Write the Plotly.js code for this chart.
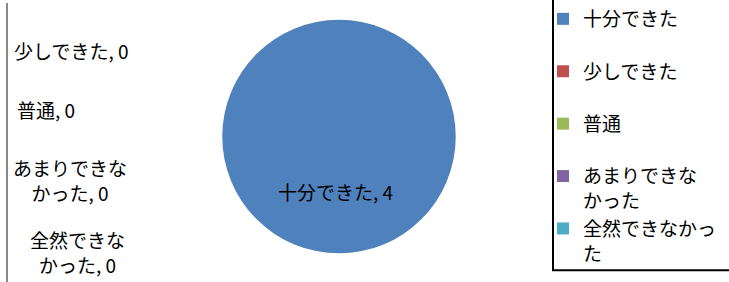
<!DOCTYPE html>
<html>
<head>
<meta charset="utf-8">
<script src="https://cdn.plot.ly/plotly-3.0.1.min.js"></script>
<style>html,body{margin:0;padding:0;background:#fff;}#chart{width:729px;height:282px;}</style>
</head>
<body>
<div id="chart"></div>
<script>
var categories = ['十分できた', '少しできた', '普通', 'あまりできなかった', '全然できなかった'];
var values = [4, 0, 0, 0, 0];
var legendLabels = ['十分できた', '少しできた', '普通', 'あまりできな<br>かった', '全然できなかっ<br>た'];
var dataLabelNames = ['十分できた', '少しできた', '普通', 'あまりできな<br>かった', '全然できな<br>かった'];
var colors = ['#4F81BD', '#C0504D', '#9BBB59', '#8064A2', '#4BACC6'];

var W = 729, H = 282;
var FONT = '"Noto Sans CJK JP", "Noto Sans", sans-serif';

// pad single-line legend entries so every entry has the same height
var pieLabels = legendLabels.map(function (l) {
  return l.indexOf('<br>') >= 0 ? l : l + '<br>\u00a0';
});

// label positions in pixels (center x, center y)
var labelPos = [[335, 191], [71, 48], [46, 108], [70, 179], [77, 252]];

var annotations = categories.map(function (c, i) {
  return {
    xref: 'paper', yref: 'paper',
    x: labelPos[i][0] / W, y: 1 - labelPos[i][1] / H,
    xanchor: 'center', yanchor: 'middle', align: 'center',
    text: dataLabelNames[i] + ', ' + values[i],
    showarrow: false,
    font: {family: FONT, size: 19, color: '#000'}
  };
});

var trace = {
  type: 'pie',
  labels: pieLabels,
  values: values,
  sort: false,
  direction: 'clockwise',
  textinfo: 'none',
  hoverinfo: 'label+value',
  marker: {colors: colors, line: {width: 0}},
  domain: {x: [221 / W, 457 / W], y: [1 - 253 / H, 1 - 17 / H]}
};

var layout = {
  width: W, height: H,
  margin: {l: 0, r: 0, t: 0, b: 0},
  paper_bgcolor: '#fff',
  showlegend: true,
  legend: {
    x: 543 / W, xanchor: 'left', y: 1.012, yanchor: 'top',
    borderwidth: 0, bgcolor: 'rgba(0,0,0,0)',
    valign: 'top',
    maxheight: 400,
    font: {family: FONT, size: 19, color: '#000'}
  },
  annotations: annotations,
  shapes: [{
    type: 'line', xref: 'paper', yref: 'paper',
    x0: 7 / W, x1: 7 / W, y0: 0, y1: 1,
    line: {color: '#888', width: 2}
  }, {
    type: 'rect', xref: 'paper', yref: 'paper',
    x0: 553 / W, x1: 745 / W, y0: 1 - 270 / H, y1: 1.02,
    line: {color: '#000', width: 2}
  }]
};

Plotly.newPlot('chart', [trace], layout, {displayModeBar: false, staticPlot: true});
</script>
</body>
</html>
